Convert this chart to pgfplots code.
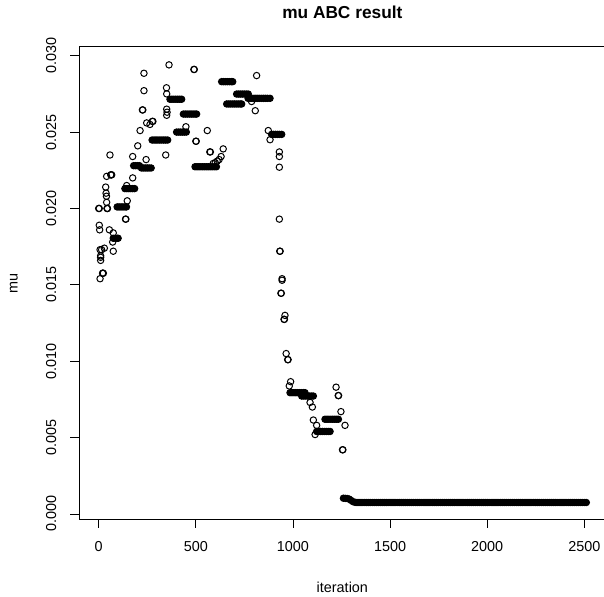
\documentclass[border=0pt]{standalone}
\usepackage{fontspec}
\setmainfont{Liberation Sans}
\usepackage{pgfplots}
\pgfplotsset{compat=1.18}
\begin{document}
\fontsize{14.4}{17}\selectfont
\begin{tikzpicture}
\begin{axis}[
  scale only axis, width=526.7pt, height=472.6pt,
  xmin=-101.4, xmax=2610, ymin=-0.00035, ymax=0.03059,
  scaled y ticks=false, scaled x ticks=false,
  xtick={0,500,1000,1500,2000,2500},
  xticklabels={0,500,1000,1500,2000,2500},
  ytick={0,0.005,0.010,0.015,0.020,0.025,0.030},
  yticklabels={0.000,0.005,0.010,0.015,0.020,0.025,0.030},
  tick pos=left, tick align=outside, major tick length=8.6pt,
  axis line style={line width=0.9pt},
  major tick style={line width=0.9pt, black},
  tick label style={font=\fontsize{14.4}{17}\selectfont},
  xticklabel style={anchor=north, inner sep=0pt},
  xticklabel shift=13.8pt,
  yticklabel style={rotate=90, anchor=base, inner sep=0pt},
  yticklabel shift=14.2pt,
  title={mu ABC result},
  every axis title/.style={at={(rel axis cs:0.5,1)}, anchor=base, yshift=28.2pt, font=\bfseries\fontsize{17.3}{20}\selectfont},
  xlabel={iteration},
  every axis x label/.style={at={(rel axis cs:0.5,0)}, anchor=base, yshift=-73.2pt, inner sep=0pt, font=\fontsize{14.4}{17}\selectfont},
  ylabel={mu},
  every axis y label/.style={at={(rel axis cs:0,0.5)}, xshift=-61.3pt, rotate=90, anchor=base, font=\fontsize{14.4}{17}\selectfont},
]
% single draws (open rings)
\addplot[only marks, mark=o, mark size=3.2pt, mark options={line width=1pt, black}] coordinates {
(0,0.0200) (3,0.0189) (5,0.0186) (7,0.0173) (10,0.0168) (10,0.0166) (7,0.0154) (15,0.0173)
(20,0.01576) (21,0.01576) (24,0.01576) (29,0.0174) (10,0.0169) (3,0.0200) (43,0.0200) (44,0.0200) (45,0.0200)
(36,0.0214) (38,0.0210) (40,0.0208) (41,0.0204) (41,0.0221) (62,0.0222) (64,0.0222) (67,0.0222)
(58,0.0235) (55,0.0186) (75,0.0184) (72,0.0178) (75,0.0172) (138,0.0193) (140,0.0193) (144,0.0215)
(147,0.0205) (175,0.0220) (175,0.0234) (201,0.0241) (213,0.0251) (244,0.0232) (225,0.02645) (227,0.02645)
(233,0.02771) (233,0.02885) (247,0.0256) (264,0.0255) (276,0.0257) (279,0.0257) (345,0.0235)
(349,0.0279) (350,0.0275) (350,0.0265) (352,0.0263) (350,0.0261) (362,0.0294) (449,0.02535)
(490,0.0291) (492,0.0291) (500,0.0244) (502,0.0244) (559,0.0251) (572,0.0237) (575,0.0237)
(590,0.02295) (600,0.0230) (610,0.0231) (620,0.0232) (630,0.0234) (641,0.0239)
(787,0.0270) (806,0.0264) (813,0.0287) (873,0.0251) (882,0.0245)
(930,0.0237) (930,0.0234) (930,0.0227) (930,0.0193) (932,0.0172) (934,0.0172) (944,0.0154) (944,0.0153)
(938,0.01445) (940,0.01445) (959,0.0130) (954,0.01274) (956,0.01274) (965,0.0105) (973,0.0101) (975,0.0101)
(988,0.00866) (981,0.00838) (1088,0.0073) (1100,0.0070) (1105,0.00615) (1122,0.0058) (1114,0.0052)
(1222,0.0083) (1233,0.00775) (1235,0.00775) (1247,0.0067) (1268,0.0058) (1255,0.0042) (1257,0.0042)
};
% repeated values (runs of identical draws)
\addplot[only marks, mark=*, mark size=3.2pt, mark options={line width=1pt, draw=black, fill=black}] coordinates {
(75,0.01805) (85,0.01805) (95,0.01805) (100,0.01805)
(95,0.0201) (105,0.0201) (115,0.0201) (125,0.0201) (135,0.0201) (143,0.0201)
(135,0.0213) (145,0.0213) (155,0.0213) (165,0.0213) (175,0.0213) (185,0.0213)
(180,0.0228) (190,0.0228) (200,0.0228) (210,0.0228)
(220,0.02265) (230,0.02265) (240,0.02265) (250,0.02265) (260,0.02265) (270,0.02265)
(275,0.02448) (285,0.02448) (295,0.02448) (305,0.02448) (315,0.02448) (325,0.02448) (335,0.02448) (345,0.02448) (355,0.02448)
(367,0.02715) (377,0.02715) (387,0.02715) (397,0.02715) (407,0.02715) (417,0.02715) (427,0.02715)
(401,0.0250) (411,0.0250) (421,0.0250) (431,0.0250) (441,0.0250) (451,0.0250)
(436,0.02618) (446,0.02618) (456,0.02618) (466,0.02618) (476,0.02618) (486,0.02618) (496,0.02618) (504,0.02618)
(496,0.02273) (506,0.02273) (516,0.02273) (526,0.02273) (536,0.02273) (546,0.02273) (556,0.02273) (566,0.02273) (576,0.02273) (586,0.02273) (596,0.02273) (606,0.02273)
(633,0.0283) (643,0.0283) (653,0.0283) (663,0.0283) (673,0.0283) (683,0.0283) (690,0.0283)
(659,0.02684) (669,0.02684) (679,0.02684) (689,0.02684) (699,0.02684) (709,0.02684) (719,0.02684) (729,0.02684) (736,0.02684)
(710,0.02749) (720,0.02749) (730,0.02749) (740,0.02749) (750,0.02749) (760,0.02749) (770,0.02749)
(769,0.02721) (779,0.02721) (789,0.02721) (799,0.02721) (809,0.02721) (819,0.02721) (829,0.02721) (839,0.02721) (849,0.02721) (859,0.02721) (869,0.02721) (882,0.02721)
(890,0.02485) (900,0.02485) (910,0.02485) (920,0.02485) (930,0.02485) (942,0.02485)
(985,0.00794) (995,0.00794) (1005,0.00794) (1015,0.00794) (1025,0.00794) (1035,0.00794) (1045,0.00794) (1055,0.00794) (1062,0.00794)
(1045,0.00772) (1055,0.00772) (1065,0.00772) (1075,0.00772) (1085,0.00772) (1095,0.00772) (1105,0.00772)
(1122,0.0054) (1132,0.0054) (1142,0.0054) (1152,0.0054) (1162,0.0054) (1172,0.0054) (1182,0.0054) (1191,0.0054)
(1165,0.0062) (1175,0.0062) (1185,0.0062) (1195,0.0062) (1205,0.0062) (1215,0.0062) (1225,0.0062) (1234,0.0062)
(1260,0.00103) (1270,0.00102) (1280,0.00101) (1290,0.00097) (1300,0.00088) (1310,0.0008) (1320,0.00076)
(1330,0.00075) (1340,0.00075) (1350,0.00075) (1360,0.00075) (1370,0.00075) (1380,0.00075) (1390,0.00075)
(1400,0.00075) (1410,0.00075) (1420,0.00075) (1430,0.00075) (1440,0.00075) (1450,0.00075) (1460,0.00075) (1470,0.00075) (1480,0.00075) (1490,0.00075)
(1500,0.00075) (1510,0.00075) (1520,0.00075) (1530,0.00075) (1540,0.00075) (1550,0.00075) (1560,0.00075) (1570,0.00075) (1580,0.00075) (1590,0.00075)
(1600,0.00075) (1610,0.00075) (1620,0.00075) (1630,0.00075) (1640,0.00075) (1650,0.00075) (1660,0.00075) (1670,0.00075) (1680,0.00075) (1690,0.00075)
(1700,0.00075) (1710,0.00075) (1720,0.00075) (1730,0.00075) (1740,0.00075) (1750,0.00075) (1760,0.00075) (1770,0.00075) (1780,0.00075) (1790,0.00075)
(1800,0.00075) (1810,0.00075) (1820,0.00075) (1830,0.00075) (1840,0.00075) (1850,0.00075) (1860,0.00075) (1870,0.00075) (1880,0.00075) (1890,0.00075)
(1900,0.00075) (1910,0.00075) (1920,0.00075) (1930,0.00075) (1940,0.00075) (1950,0.00075) (1960,0.00075) (1970,0.00075) (1980,0.00075) (1990,0.00075)
(2000,0.00075) (2010,0.00075) (2020,0.00075) (2030,0.00075) (2040,0.00075) (2050,0.00075) (2060,0.00075) (2070,0.00075) (2080,0.00075) (2090,0.00075)
(2100,0.00075) (2110,0.00075) (2120,0.00075) (2130,0.00075) (2140,0.00075) (2150,0.00075) (2160,0.00075) (2170,0.00075) (2180,0.00075) (2190,0.00075)
(2200,0.00075) (2210,0.00075) (2220,0.00075) (2230,0.00075) (2240,0.00075) (2250,0.00075) (2260,0.00075) (2270,0.00075) (2280,0.00075) (2290,0.00075)
(2300,0.00075) (2310,0.00075) (2320,0.00075) (2330,0.00075) (2340,0.00075) (2350,0.00075) (2360,0.00075) (2370,0.00075) (2380,0.00075) (2390,0.00075)
(2400,0.00075) (2410,0.00075) (2420,0.00075) (2430,0.00075) (2440,0.00075) (2450,0.00075) (2460,0.00075) (2470,0.00075) (2480,0.00075) (2490,0.00075)
(2500,0.00075) (2510,0.00075)
};
\end{axis}
\pgfresetboundingbox
\path[use as bounding box] ([xshift=-79pt,yshift=-76.7pt]current axis.south west) rectangle ([xshift=-1.7pt,yshift=46.7pt]current axis.north east);
\end{tikzpicture}
\end{document}
